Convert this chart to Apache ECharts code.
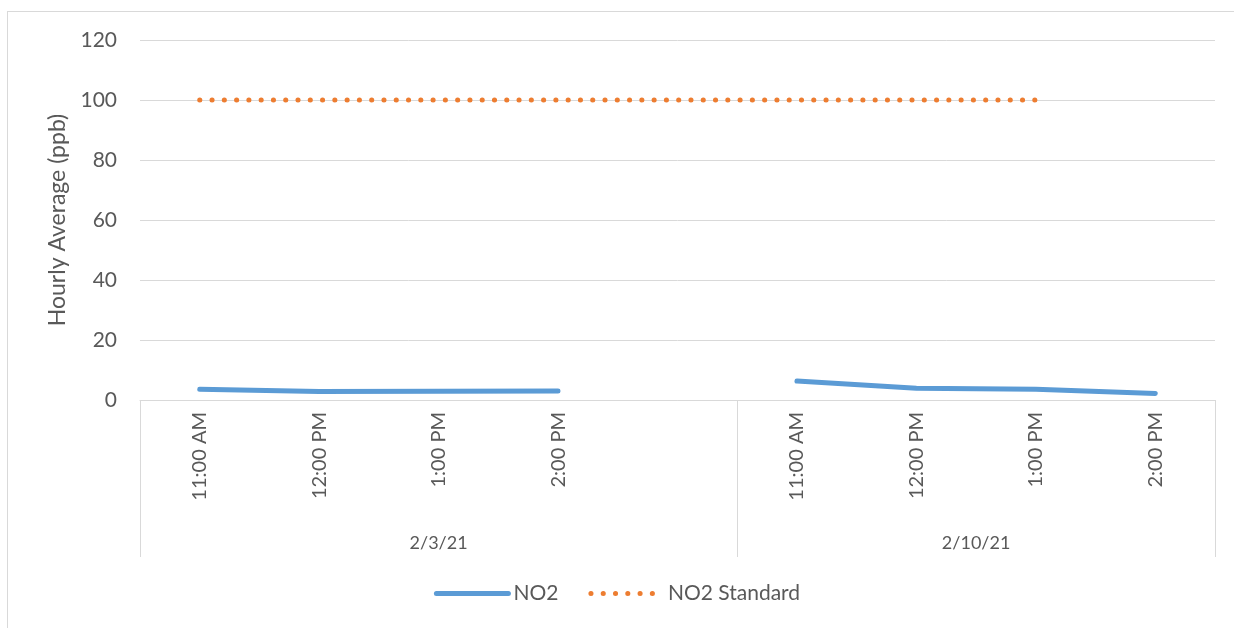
<!DOCTYPE html>
<html>
<head>
<meta charset="utf-8">
<script src="https://cdn.jsdelivr.net/npm/echarts@6/dist/echarts.min.js"></script>
<style>
  html, body { margin: 0; padding: 0; background: #fff; }
  #wrap { position: relative; width: 1234px; height: 628px; overflow: hidden; }
  #frame {
    position: absolute; left: 7px; top: 11px; width: 1300px; height: 700px;
    border-left: 1px solid #d9d9d9; border-top: 1px solid #d9d9d9;
  }
  #chart { position: absolute; left: 0; top: 0; width: 1234px; height: 628px; }
</style>
</head>
<body>
<div id="wrap">
  <div id="frame"></div>
  <div id="chart"></div>
</div>
<script>
// hours per slot, '' = the empty slot between the two days
const hours = ["11:00 AM", "12:00 PM", "1:00 PM", "2:00 PM", "", "11:00 AM", "12:00 PM", "1:00 PM", "2:00 PM"]
const days = ["2/3/21", "2/10/21"]
// group edges and centres in slot units
const dayEdges = [0, 5, 9]
const dayCentres = [2.5, 7]

const no2 = [3.6, 2.8, 2.9, 3.0, null, 6.3, 3.9, 3.6, 2.2]
const no2Standard = [100, 100, 100, 100, 100, 100, 100, 100, null]

const yTicks = { min: 0, max: 120, interval: 20 }

const textColor = "#595959"
const gridColor = "#d9d9d9"
const font = "Lato"
const blue = "#5b9bd5"
const orange = "#ed7d31"
const dots = [0.1, 12.18]

const chart = echarts.init(document.getElementById("chart"))

const option = {
  animation: false,
  textStyle: { fontFamily: font },
  grid: {
    left: 140,
    right: 19,
    top: 40,
    bottom: 228
  },
  legend: {
    bottom: 19,
    left: "center",
    itemWidth: 72,
    itemHeight: 8,
    itemGap: 30,
    textStyle: { color: textColor, fontSize: 21, fontFamily: font },
    data: [
      {
        name: "NO2",
        itemStyle: { opacity: 0 },
        lineStyle: { width: 5, color: blue, cap: "round" }
      },
      {
        name: "NO2 Standard",
        itemStyle: { opacity: 0 },
        lineStyle: { width: 5, color: orange, type: dots, cap: "round" }
      }
    ]
  },
  xAxis: [
    {
      type: "category",
      data: hours,
      boundaryGap: true,
      axisLine: { show: true, lineStyle: { color: gridColor, width: 1 } },
      axisTick: { show: false },
      axisLabel: {
        rotate: 90,
        interval: 0,
        color: textColor,
        fontSize: 20,
        margin: 12
      },
      splitLine: { show: false }
    },
    {
      type: "value",
      position: "bottom",
      min: 0,
      max: 9,
      axisLine: { show: false },
      axisTick: {
        show: true,
        customValues: dayEdges,
        length: 157,
        lineStyle: { color: gridColor, width: 1 }
      },
      axisLabel: {
        customValues: dayCentres,
        formatter: function (v) {
          return days[dayCentres.indexOf(v)]
        },
        color: textColor,
        fontSize: 18,
        margin: 134
      },
      splitLine: { show: false }
    }
  ],
  yAxis: {
    type: "value",
    min: yTicks.min,
    max: yTicks.max,
    interval: yTicks.interval,
    name: "Hourly Average (ppb)",
    nameLocation: "middle",
    nameGap: 70,
    nameTextStyle: { color: textColor, fontSize: 23, fontFamily: font },
    axisLine: { show: false },
    axisTick: { show: false },
    axisLabel: { color: textColor, fontSize: 21, margin: 23 },
    splitLine: { lineStyle: { color: gridColor, width: 1 } }
  },
  series: [
    {
      name: "NO2",
      type: "line",
      xAxisIndex: 0,
      data: no2,
      symbol: "none",
      connectNulls: false,
      color: blue,
      lineStyle: { color: blue, width: 5, cap: "round", join: "round" }
    },
    {
      name: "NO2 Standard",
      type: "line",
      xAxisIndex: 0,
      data: no2Standard,
      symbol: "none",
      color: orange,
      lineStyle: { color: orange, width: 5, type: dots, cap: "round" }
    }
  ]
}

chart.setOption(option)
window.addEventListener("resize", () => chart.resize())
</script>
</body>
</html>
